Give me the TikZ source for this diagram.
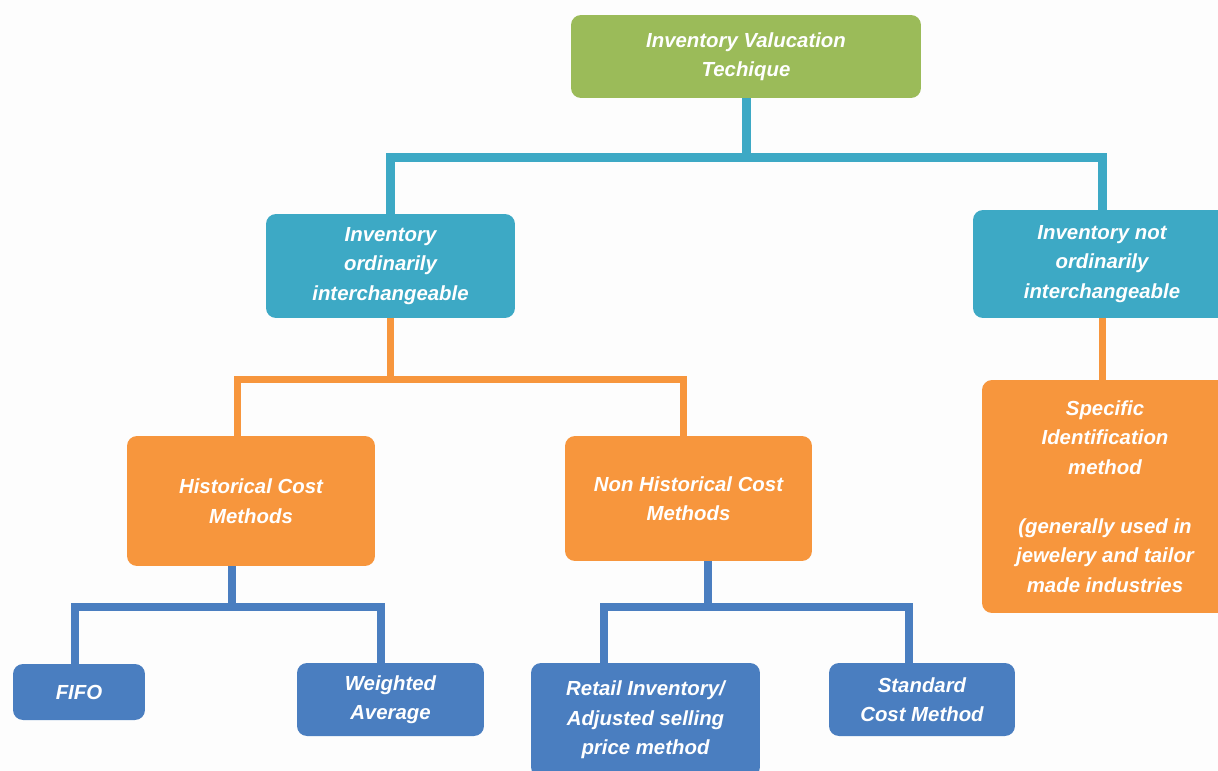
\documentclass[tikz,border=0pt]{standalone}
\usepackage{fontspec}
\setmainfont{Liberation Sans}
\definecolor{cgreen}{HTML}{9BBB59}
\definecolor{cteal}{HTML}{3DA9C5}
\definecolor{corange}{HTML}{F7963D}
\definecolor{cblue}{HTML}{4A7EC0}
\definecolor{cbg}{HTML}{FDFDFD}
\tikzset{
  box/.style={rounded corners=0.2cm, inner sep=2pt, align=center, text=white,
    font=\fontsize{11.6}{16.8}\selectfont\bfseries\itshape},
  gbox/.style={box, fill=cgreen},
  tbox/.style={box, fill=cteal},
  obox/.style={box, fill=corange},
  bbox/.style={box, fill=cblue},
  tline/.style={draw=cteal, line width=0.18cm},
  oline/.style={draw=corange, line width=0.14cm},
  bline/.style={draw=cblue, line width=0.16cm},
}
\begin{document}
\begin{tikzpicture}[x=0.02cm,y=-0.02cm]
\useasboundingbox[fill=cbg] (0,0) rectangle (1218,771);
\coordinate (tbus) at (746,157);
\coordinate (obus) at (391,379);
\coordinate (ho) at (237,379);
\coordinate (no) at (683,379);
\coordinate (hb) at (232,607);
\coordinate (nb) at (708,607);
\coordinate (fb) at (75,607);
\coordinate (wb) at (381,607);
\coordinate (rb) at (604,607);
\coordinate (sb) at (909,607);

\node[gbox, minimum width=7cm, minimum height=1.66cm] (top) at (746,56.5) {Inventory Valucation\\Techique};
\node[tbox, minimum width=4.98cm, minimum height=2.08cm] (ord) at (390.5,266) {Inventory\\ordinarily\\interchangeable};
\node[tbox, minimum width=5.16cm, minimum height=2.16cm] (notord) at (1102,264) {Inventory not\\ordinarily\\interchangeable};
\node[obox, minimum width=4.92cm, minimum height=4.66cm] (spec) at (1105,496.5) {Specific\\Identification\\method\\[16.8pt](generally used in\\jewelery and tailor\\made industries};
\node[obox, minimum width=4.96cm, minimum height=2.6cm] (hist) at (251,501) {Historical Cost\\Methods};
\node[obox, minimum width=4.94cm, minimum height=2.5cm] (nonhist) at (688.5,498.5) {Non Historical Cost\\Methods};
\node[bbox, minimum width=2.64cm, minimum height=1.12cm] (fifo) at (79,692) {FIFO};
\node[bbox, minimum width=3.74cm, minimum height=1.46cm] (wavg) at (390.5,699.5) {Weighted\\Average};
\node[bbox, minimum width=4.58cm, minimum height=2.28cm] (retail) at (645.5,720) {Retail Inventory/\\Adjusted selling\\price method};
\node[bbox, minimum width=3.72cm, minimum height=1.46cm] (std) at (922,699.5) {Standard\\Cost Method};

% teal connectors
\draw[tline] (top.south) -- (tbus);
\draw[tline] (ord.north) |- (tbus) -| (notord.north);
% orange connectors
\draw[oline] (ord.south) -- (ord.south |- obus);
\draw[oline] (ho |- hist.north) -- (ho) -- (no) -- (no |- nonhist.north);
\draw[oline] (notord.south) -- (notord.south |- spec.north);
% blue connectors
\draw[bline] (hb |- hist.south) -- (hb);
\draw[bline] (fb |- fifo.north) -- (fb) -- (wb) -- (wb |- wavg.north);
\draw[bline] (nb |- nonhist.south) -- (nb);
\draw[bline] (rb |- retail.north) -- (rb) -- (sb) -- (sb |- std.north);
\end{tikzpicture}
\end{document}
